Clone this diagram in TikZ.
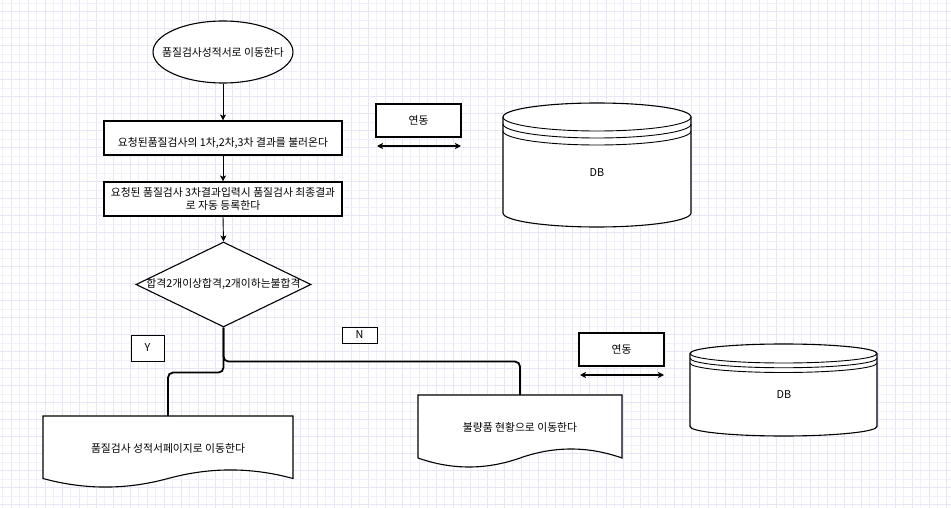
\documentclass[tikz,border=0pt]{standalone}
\usepackage{fontspec}
\setmainfont{Noto Sans CJK KR}
\usetikzlibrary{shapes.geometric,arrows.meta}
\definecolor{gridl}{RGB}{240,240,251}
\definecolor{gridd}{RGB}{230,230,248}
\begin{document}
\begin{tikzpicture}[x=1pt,y=-1pt,
  shp/.style={draw, line width=1.1pt, fill=white},
  thinbox/.style={draw, line width=0.8pt, fill=white, inner sep=0pt},
  lbl/.style={font=\fontsize{10.8}{12.5}\selectfont, inner sep=0pt, align=center},
  flow/.style={line width=0.9pt, -{Stealth[length=6pt,width=6pt,inset=1.5pt]}},
  branch/.style={line width=1.8pt, rounded corners=5pt},
  link/.style={line width=1.4pt, {Stealth[length=6pt,width=6pt,inset=1.5pt]}-{Stealth[length=6pt,width=6pt,inset=1.5pt]}}
]
\useasboundingbox (0,0) rectangle (951,508);
\fill[white] (0,0) rectangle (951,508);
% grid
\foreach \i in {0,...,55} {
  \draw[gridl, line width=0.8pt] ({2.7+17*\i},0) -- ({2.7+17*\i},508);
  \draw[gridd, line width=0.8pt] ({11.2+17*\i},0) -- ({11.2+17*\i},508);
}
\foreach \j in {0,...,29} {
  \draw[gridl, line width=0.8pt] (0,{3.3+17*\j}) -- (951,{3.3+17*\j});
  \draw[gridd, line width=0.8pt] (0,{11.8+17*\j}) -- (951,{11.8+17*\j});
}

% main flow
\node[shp, ellipse, minimum width=140pt, minimum height=62pt, inner sep=0pt] (start) at (223,52) {};
\node[lbl] (startt) at (start) {품질검사성적서로 이동한다};

\node[shp, minimum width=238pt, minimum height=34pt, inner sep=0pt] (b1) at (223,138) {};
\node[lbl] (b1t) at (223,143) {요청된품질검사의 1차,2차,3차 결과를 불러온다};

\node[shp, minimum width=238pt, minimum height=34pt, inner sep=0pt] (b2) at (223,199) {};
\node[lbl] (b2t) at (223,199) {요청된 품질검사 3차결과입력시 품질검사 최종결과\\로 자동 등록한다};

\node[shp, diamond, minimum width=175pt, minimum height=85pt, inner sep=0pt] (dec) at (223.5,284.5) {};
\node[lbl] (dect) at (dec) {합격2개이상합격,2개이하는불합격};

\draw[flow] (start.south) -- (b1.north);
\draw[flow] (b1.south) -- (b2.north);
\draw[flow] (b2.south) -- (dec.north);

% Y / N labels
\node[thinbox, lbl, minimum width=33pt, minimum height=26pt] (ylab) at (147.5,348) {Y};
\node[thinbox, lbl, minimum width=35pt, minimum height=16pt] (nlab) at (359.5,335) {N};

% documents
\draw[shp] (43,416) -- (293,416) -- (293,478.5)
  .. controls (251.3,467.1) and (209.7,467.1) .. (168,478.5)
  .. controls (126.3,489.9) and (84.7,489.9) .. (43,478.5) -- cycle;
\coordinate (d1top) at (168,416);
\node[lbl] (d1t) at (168,448) {품질검사 성적서페이지로 이동한다};

\draw[shp] (418,395) -- (622,395) -- (622,458)
  .. controls (588,446) and (554,446) .. (520,458)
  .. controls (486,470) and (452,470) .. (418,458) -- cycle;
\coordinate (d2top) at (520,395);
\node[lbl] (d2t) at (520,427) {불량품 현황으로 이동한다};

% branches
\draw[branch] (dec.south) -- ++(0,45) -| (d1top);
\draw[branch] (dec.south) -- ++(0,34) -| (d2top);

% link boxes
\node[shp, lbl, minimum width=85pt, minimum height=33pt] (link1) at (418.5,120.5) {연동};
\coordinate (l1a) at (377,146);
\coordinate (l1b) at (461,146);
\draw[link] (l1a) -- (l1b);

\node[shp, lbl, minimum width=85pt, minimum height=33pt] (link2) at (621.5,349.5) {연동};
\coordinate (l2a) at (580,375);
\coordinate (l2b) at (664,375);
\draw[link] (l2a) -- (l2b);

% DB 1
\draw[shp] (503,117) arc[start angle=180,end angle=0,x radius=94pt,y radius=14pt]
  -- (691,213) arc[start angle=0,end angle=-180,x radius=94pt,y radius=14pt] -- cycle;
\draw[line width=0.9pt] (503,117) arc[start angle=180,end angle=360,x radius=94pt,y radius=14pt];
\draw[line width=0.9pt] (503,124) arc[start angle=180,end angle=360,x radius=94pt,y radius=14pt];
\draw[line width=0.9pt] (503,131) arc[start angle=180,end angle=360,x radius=94pt,y radius=14pt];
\node[lbl] (db1) at (597,173) {DB};

% DB 2
\draw[shp] (690,353.5) arc[start angle=180,end angle=0,x radius=93.5pt,y radius=9.5pt]
  -- (877,426.5) arc[start angle=0,end angle=-180,x radius=93.5pt,y radius=9.5pt] -- cycle;
\draw[line width=0.9pt] (690,353.5) arc[start angle=180,end angle=360,x radius=93.5pt,y radius=9.5pt];
\draw[line width=0.9pt] (690,358.25) arc[start angle=180,end angle=360,x radius=93.5pt,y radius=9.5pt];
\draw[line width=0.9pt] (690,363) arc[start angle=180,end angle=360,x radius=93.5pt,y radius=9.5pt];
\node[lbl] (db2) at (784,395) {DB};
\end{tikzpicture}
\end{document}
